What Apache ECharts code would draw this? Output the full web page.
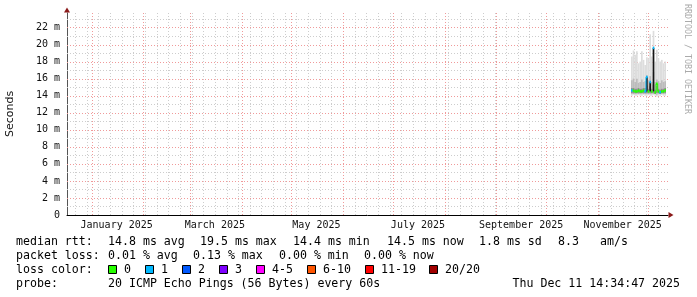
<!DOCTYPE html>
<html><head><meta charset="utf-8">
<script src="https://cdn.jsdelivr.net/npm/echarts@6/dist/echarts.min.js"></script>
<style>html,body{margin:0;padding:0;background:#fff}#c{width:697px;height:297px}</style>
</head><body><div id="c"></div>
<script>
// ---------- data ----------
const days = ['2025-11-21','2025-11-22','2025-11-23','2025-11-24','2025-11-25','2025-11-26','2025-11-27',
  '2025-11-28','2025-11-29','2025-11-30','2025-12-01','2025-12-02','2025-12-03','2025-12-04','2025-12-05',
  '2025-12-06','2025-12-07','2025-12-08','2025-12-09','2025-12-10','2025-12-11'];
const smokeLow  = [14.0,14.1,14.0,14.0,14.1,14.0,14.0,14.1,14.0,14.0,14.1,14.0,14.0,14.1,14.0,13.9,14.0,14.0,14.1,14.0,14.0];
const smokeHigh = [18.6,19.3,18.8,19.2,17.8,18.0,19.2,18.2,17.6,18.5,18.4,21.2,18.6,21.6,18.0,19.4,18.4,18.0,18.2,17.8,18.0];
const midLow    = [14.2,14.2,14.2,14.2,14.2,14.2,14.2,14.2,14.2,14.2,14.2,14.2,14.2,14.2,14.2,14.1,14.2,14.2,14.2,14.2,14.2];
const midHigh   = [15.8,16.0,15.6,16.0,15.5,15.6,15.9,15.6,15.7,16.4,15.8,16.3,15.6,16.8,15.6,15.9,15.7,15.5,15.8,15.6,15.7];
const darkLow   = [14.3,14.3,14.3,14.3,14.3,14.3,14.3,14.3,14.3,14.3,14.3,14.3,14.3,14.3,14.2,14.3,14.3,14.2,14.3,14.3,14.3];
const darkHigh  = [14.9,14.9,14.8,14.8,14.9,14.8,14.8,14.9,14.9,15.2,14.8,15.1,14.8,15.3,14.7,15.2,14.8,14.7,14.8,14.8,14.9];
const median    = [14.6,14.6,14.5,14.5,14.6,14.5,14.5,14.6,14.5,16.2,14.5,15.6,14.5,19.6,14.4,15.4,14.5,14.4,14.5,14.5,14.6];
const lossCount = [1,0,0,0,0,0,0,0,1,1,0,1,0,1,0,0,0,1,0,0,0];
const spikeDays = ['2025-11-30','2025-12-02','2025-12-04'];
const spikeLow  = [14.5,14.5,14.5];
const spikeHigh = [16.2,15.6,19.6];

const lossLabels = ['0','1','2','3','4-5','6-10','11-19','20/20'];
const lossColors = ['#26ff00','#00b8ff','#0059ff','#7e00ff','#ff00ff','#ff5500','#ff0000','#a10000'];

const yTicks = [0,2,4,6,8,10,12,14,16,18,20,22];
const yMinor = [1,3,5,7,9,11,13,15,17,19,21,23];
const monthStarts = ['2025-01-01','2025-02-01','2025-03-01','2025-04-01','2025-05-01','2025-06-01',
  '2025-07-01','2025-08-01','2025-09-01','2025-10-01','2025-11-01','2025-12-01'];
const xLabelDates = ['2025-01-16','2025-03-16','2025-05-16','2025-07-16','2025-09-16','2025-11-16'];
const xLabelTexts = ['January 2025','March 2025','May 2025','July 2025','September 2025','November 2025'];
const firstWeekLine = '2024-12-22';
const xMin = '2024-12-17T04:00:00';
const xMax = '2025-12-13T05:00:00';
const yMax = 23.7;

const rttItems  = ['median rtt:','14.8 ms avg','19.5 ms max','14.4 ms min','14.5 ms now','1.8 ms sd','8.3','am/s'];
const lossItems = ['packet loss:','0.01 % avg','0.13 % max','0.00 % min','0.00 % now'];
const probeItems = ['probe:','20 ICMP Echo Pings (56 Bytes) every 60s'];
const stampText = 'Thu Dec 11 14:34:47 2025';
const legendTitle = 'loss color:';

// ---------- legend layout (pixels) ----------
const rttX   = [16,108,200,293,387,479,558,600];
const lossX  = [16,108,193,279,364];
const probeX = [16,108];
const boxX   = [108,145,182,219,256,307,365,429];
const lineY  = [241.5,255.5,269.5,283.5];

// ---------- helpers ----------
const DAY = 86400000;
function t(s){ return new Date(s.length <= 10 ? s + 'T00:00:00' : s).getTime(); }
function lossIndex(n){ if(n<=3) return n; if(n<=5) return 4; if(n<=10) return 5; if(n<=19) return 6; return 7; }

const weekLines = [];
{ const d = new Date(firstWeekLine + 'T00:00:00'); while (d.getTime() < t(xMax)) { weekLines.push(d.getTime()); d.setDate(d.getDate()+7); } }

const MONO = '"DejaVu Sans Mono", monospace';
const LFONT = '11.6px ' + MONO;
const GRID_MINOR = '#cdcdcd', GRID_MAJOR = '#f09a9a';

function bandSeries(name, dates, lows, highs, color, z){
  return {
    type:'custom', name, z, silent:true, clip:true,
    encode:{x:0, y:[1,2]},
    data: dates.map((d,i)=>[t(d), lows[i], highs[i]]),
    renderItem(params, api){
      const x = api.value(0);
      const p0 = api.coord([x, api.value(2)]);
      const p1 = api.coord([x + DAY, api.value(1)]);
      return {type:'rect', shape:{x:p0[0], y:p0[1], width:p1[0]-p0[0], height:p1[1]-p0[1]}, style:{fill:color}};
    }
  };
}

const chart = echarts.init(document.getElementById('c'), null, {renderer:'canvas'});
const tMin = t(xMin), tMax = t(xMax);

const graphics = [
  {type:'text', x:687, y:4, rotation:-Math.PI/2, silent:true,
   style:{text:'RRDTOOL / TOBI OETIKER', font:'8.3px ' + MONO, fill:'#aaaaaa', align:'left', verticalAlign:'middle'}}
];
rttItems.forEach((s,i)=>graphics.push({type:'text', x:rttX[i], y:lineY[0], silent:true, style:{text:s, font:LFONT, fill:'#000', verticalAlign:'middle'}}));
lossItems.forEach((s,i)=>graphics.push({type:'text', x:lossX[i], y:lineY[1], silent:true, style:{text:s, font:LFONT, fill:'#000', verticalAlign:'middle'}}));
graphics.push({type:'text', x:16, y:lineY[2], silent:true, style:{text:legendTitle, font:LFONT, fill:'#000', verticalAlign:'middle'}});
lossLabels.forEach((s,i)=>{
  graphics.push({type:'rect', silent:true, shape:{x:boxX[i]+0.5, y:lineY[2]-4, width:8, height:8},
    style:{fill:lossColors[i], stroke:'#000', lineWidth:1}});
  graphics.push({type:'text', x:boxX[i]+16, y:lineY[2], silent:true, style:{text:s, font:LFONT, fill:'#000', verticalAlign:'middle'}});
});
probeItems.forEach((s,i)=>graphics.push({type:'text', x:probeX[i], y:lineY[3], silent:true, style:{text:s, font:LFONT, fill:'#000', verticalAlign:'middle'}}));
graphics.push({type:'text', x:680, y:lineY[3], silent:true, style:{text:stampText, font:LFONT, fill:'#000', align:'right', verticalAlign:'middle'}});

function vLine(color){
  return function(params, api){
    const cs = params.coordSys; const x = Math.round(api.coord([api.value(0),0])[0]) + 0.5;
    return {type:'line', shape:{x1:x, y1:cs.y, x2:x, y2:cs.y+cs.height}, style:{stroke:color, lineWidth:1, lineDash:[1,2]}};
  };
}
function hLine(color){
  return function(params, api){
    const cs = params.coordSys; const y = Math.round(api.coord([tMin, api.value(1)])[1]) + 0.5;
    return {type:'line', shape:{x1:cs.x, y1:y, x2:cs.x+cs.width, y2:y}, style:{stroke:color, lineWidth:1, lineDash:[1,2]}};
  };
}

const option = {
  animation:false,
  backgroundColor:'#ffffff',
  grid:{left:67, top:13, right:29, bottom:82, containLabel:false, outerBoundsMode:'none'},
  xAxis:[
    {type:'time', min:tMin, max:tMax,
     axisLine:{show:true, onZero:false, lineStyle:{color:'#000', width:1}},
     axisTick:{show:false}, axisLabel:{show:false}, splitLine:{show:false}},
    {type:'time', min:tMin, max:tMax, position:'bottom',
     axisLine:{show:true, onZero:false, lineStyle:{color:'#8b1a1a', width:0}, symbol:['none','triangle'], symbolSize:[6,5], symbolOffset:[0,3]},
     axisTick:{show:false}, axisLabel:{show:false}, splitLine:{show:false}}
  ],
  yAxis:[
    {type:'value', min:0, max:yMax, interval:2,
     axisLine:{show:true, lineStyle:{color:'#555', width:1}},
     axisTick:{show:false}, splitLine:{show:false},
     axisLabel:{fontFamily:MONO, fontSize:10, color:'#111', margin:7, showMaxLabel:false,
       formatter:v => (yTicks.indexOf(v) < 0 ? '' : (v === 0 ? '0' : v + ' m'))},
     name:'Seconds', nameLocation:'middle', nameRotate:90, nameGap:51,
     nameTextStyle:{fontFamily:'"DejaVu Sans", sans-serif', fontSize:11, color:'#111'}},
    {type:'value', min:0, max:yMax, position:'left',
     axisLine:{show:true, lineStyle:{color:'#8b1a1a', width:0}, symbol:['none','triangle'], symbolSize:[6,5], symbolOffset:[0,3]},
     axisTick:{show:false}, axisLabel:{show:false}, splitLine:{show:false}}
  ],
  series:[
    {type:'custom', z:1, silent:true, encode:{x:0,y:1}, data: weekLines.map(w=>[w, 0]), renderItem: vLine(GRID_MINOR)},
    {type:'custom', z:1, silent:true, encode:{x:0,y:1}, data: yMinor.map(v=>[tMin, v]), renderItem: hLine(GRID_MINOR)},
    {type:'custom', z:2, silent:true, encode:{x:0,y:1}, data: monthStarts.map(m=>[t(m), 0]), renderItem: vLine(GRID_MAJOR)},
    {type:'custom', z:2, silent:true, encode:{x:0,y:1}, data: yTicks.filter(v=>v>0).map(v=>[tMin, v]), renderItem: hLine(GRID_MAJOR)},
    {type:'custom', z:5, silent:true, clip:false, encode:{x:0,y:1},
     data: xLabelDates.map((d,i)=>[t(d), 0, i]),
     renderItem(params, api){
       const p = api.coord([api.value(0), 0]);
       return {type:'text', x:p[0], y:p[1]+10, style:{text:xLabelTexts[api.value(2)], font:'10px ' + MONO, fill:'#111', align:'center', verticalAlign:'middle'}};
     }},
    bandSeries('smoke', days, smokeLow, smokeHigh, '#dddddd', 10),
    bandSeries('smoke-mid', days, midLow, midHigh, '#bcbcbc', 11),
    bandSeries('smoke-dark', days, darkLow, darkHigh, '#8e8e8e', 12),
    bandSeries('spikes', spikeDays, spikeLow, spikeHigh, '#151515', 13),
    {type:'custom', z:20, silent:true, clip:true, encode:{x:0,y:1},
     data: days.map((d,i)=>[t(d), median[i], i>0 ? median[i-1] : median[i],
                             lossIndex(lossCount[i]), i>0 && lossIndex(lossCount[i-1]) === lossIndex(lossCount[i]) ? 1 : 0]),
     renderItem(params, api){
       const x = api.value(0), m = api.value(1), pm = api.value(2);
       const col = lossColors[api.value(3)];
       const a = api.coord([x, m]), b = api.coord([x + DAY, m]), c = api.coord([x, pm]);
       const children = [{type:'line', shape:{x1:a[0], y1:a[1], x2:b[0], y2:b[1]}, style:{stroke:col, lineWidth:2.5}}];
       if (api.value(4) === 1) children.push({type:'line', shape:{x1:a[0], y1:c[1], x2:a[0], y2:a[1]}, style:{stroke:col, lineWidth:1}});
       return {type:'group', children};
     }}
  ],
  graphic: graphics
};
chart.setOption(option);
</script>
</body></html>
